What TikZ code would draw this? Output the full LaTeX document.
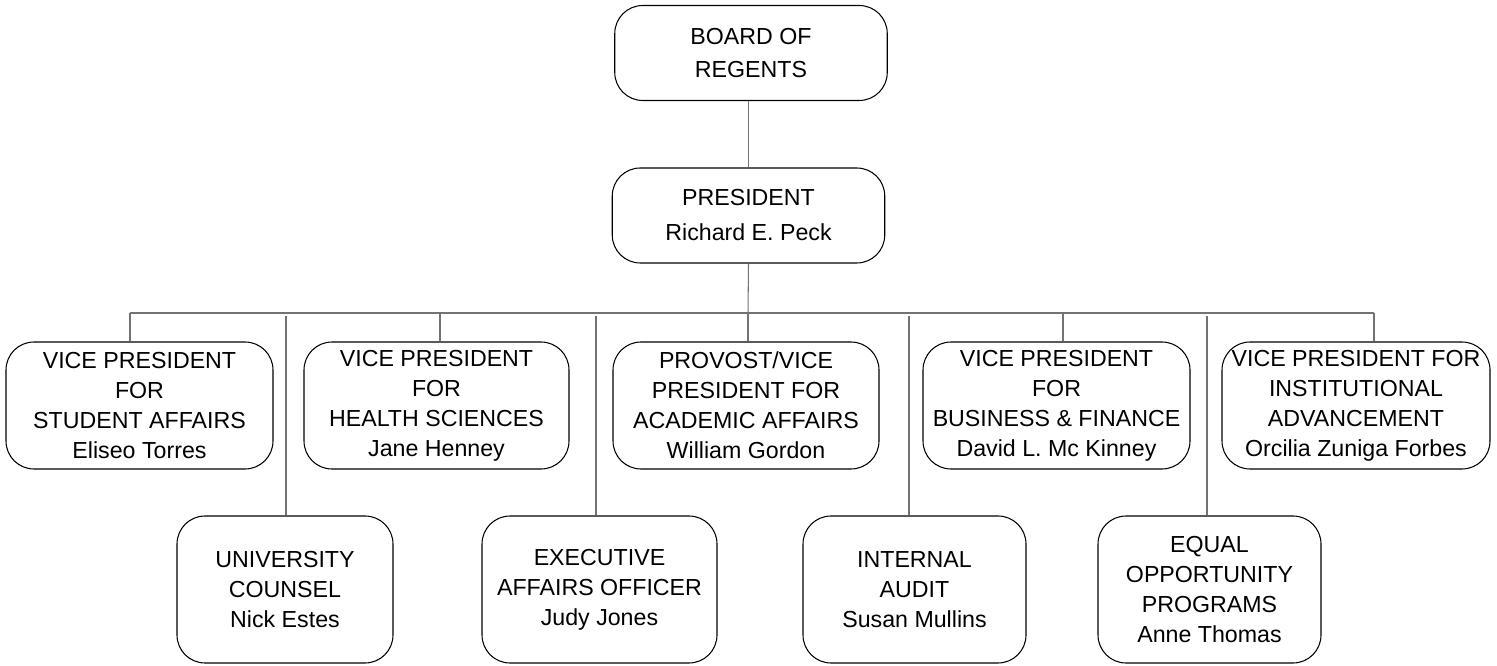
\documentclass[tikz,border=0pt]{standalone}
\usepackage{fontspec}
\setmainfont{Liberation Sans}
\usetikzlibrary{positioning}

\begin{document}
\begin{tikzpicture}[
    unit/.style={draw,rounded corners=0.56cm,align=center,inner sep=0pt,
                 line width=0.6pt,font=\fontsize{13.2}{17}\selectfont},
    head/.style={unit,minimum width=5.45cm,minimum height=1.9cm},
    vp/.style={unit,minimum height=2.54cm},
    staff/.style={unit,minimum height=2.94cm},
    link/.style={draw=black!55,line width=0.6pt},
  ]
    \path[fill=white,use as bounding box] (0,0) rectangle (29.94,-13.32);
    % top of the chart
    \node[head,font=\fontsize{13.2}{18.8}\selectfont] (regents) at (15.02,-1.06) {BOARD OF\\REGENTS};
    \node[head,font=\fontsize{13.2}{19.9}\selectfont] (pres) at (14.97,-4.31) {PRESIDENT\\Richard E. Peck};
    % vice presidents
    \node[vp,minimum width=5.34cm] (stud)   at (2.79,-8.11)  {VICE PRESIDENT\\FOR\\STUDENT AFFAIRS\\Eliseo Torres};
    \node[vp,minimum width=5.30cm] (health) at (8.73,-8.11)  {VICE PRESIDENT\\FOR\\HEALTH SCIENCES\\Jane Henney};
    \node[vp,minimum width=5.32cm] (prov)   at (14.92,-8.11) {PROVOST/VICE\\PRESIDENT FOR\\ACADEMIC AFFAIRS\\William Gordon};
    \node[vp,minimum width=5.34cm] (biz)    at (21.13,-8.11) {VICE PRESIDENT\\FOR\\BUSINESS \& FINANCE\\David L. Mc Kinney};
    \node[vp,minimum width=5.36cm] (inst)   at (27.12,-8.11) {VICE PRESIDENT FOR\\INSTITUTIONAL\\ADVANCEMENT\\Orcilia Zuniga Forbes};
    % staff offices
    \node[staff,minimum width=4.32cm] (couns) at (5.70,-11.79)  {UNIVERSITY\\COUNSEL\\Nick Estes};
    \node[staff,minimum width=4.70cm] (exec)  at (11.99,-11.79) {EXECUTIVE\\AFFAIRS OFFICER\\Judy Jones};
    \node[staff,minimum width=4.46cm] (audit) at (18.29,-11.79) {INTERNAL\\AUDIT\\Susan Mullins};
    \node[staff,minimum width=4.46cm] (equal) at (24.19,-11.79) {EQUAL\\OPPORTUNITY\\PROGRAMS\\Anne Thomas};
    % connectors
    \draw[link] (pres.north) -- (pres.north |- regents.south);
    \coordinate (hub) at (14.96,-6.26);
    \draw[link] (pres.south) -- (hub);
    \foreach \x/\n in {2.60/stud,8.80/health,14.96/prov,21.26/biz,27.48/inst}{
      \coordinate (tap-\n) at (\x,-6.26);
      \draw[link] (tap-\n) -- (tap-\n |- \n.north);
    }
    \draw[link] (tap-stud) -- (tap-inst);
    \foreach \x/\n in {5.72/couns,11.92/exec,18.18/audit,24.14/equal}{
      \coordinate (tap-\n) at (\x,-6.32);
      \draw[link] (tap-\n) -- (tap-\n |- \n.north);
    }
\end{tikzpicture}
\end{document}
